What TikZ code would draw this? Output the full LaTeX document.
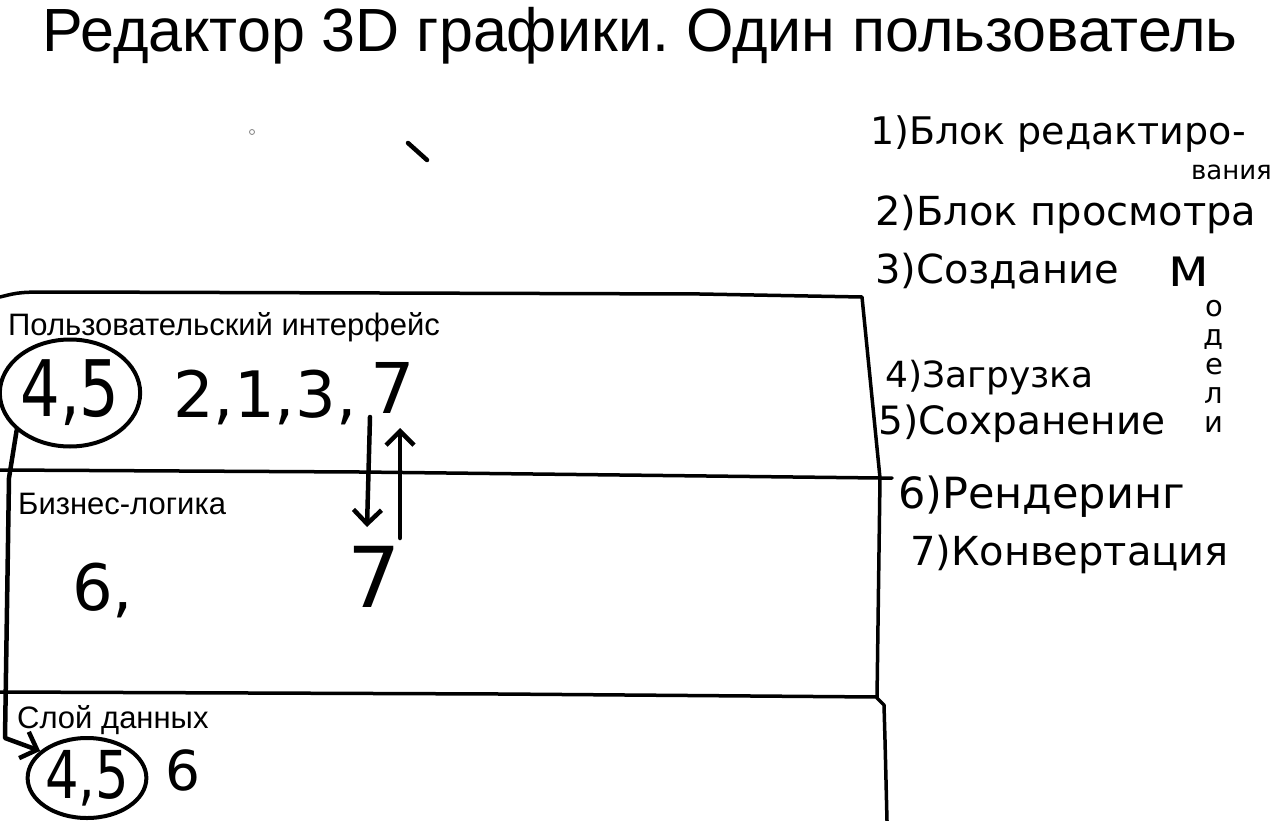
\documentclass[tikz,border=0pt]{standalone}
\usepackage{fontspec}
\setmainfont{Liberation Sans}
\newfontfamily\handfont{DejaVu Sans}
\newfontfamily\digfont[FakeStretch=0.8]{DejaVu Sans}
\usetikzlibrary{arrows.meta,shapes.geometric}
\newcommand\myfs[1]{\fontsize{#1}{#1}\selectfont}
\frenchspacing
\begin{document}
\begin{tikzpicture}[x=1pt,y=-1pt,
  stroke/.style={line width=4.5pt, line cap=round, line join=round},
  frame/.style={line width=3.5pt, line join=round, line cap=round},
  lbl/.style={anchor=base west, inner sep=0pt, font=\myfs{31}},
  hand/.style={anchor=base west, inner sep=0pt, font=\handfont\myfs{40}},
  dig/.style={anchor=base west, inner sep=0pt, font=\handfont\myfs{64}},
  bubble/.style={draw, ellipse, line width=4pt, inner sep=0pt},
  arr/.style={stroke, -{Straight Barb[length=14pt,width=28pt]}}]
\useasboundingbox (0,0) rectangle (1276,821);
\fill[white] (0,0) rectangle (1276,821);

% title
\node[font=\myfs{61}, anchor=base, inner sep=0pt] (title) at (640,52) {Редактор 3D графики. Один пользователь};

% stray marks
\node[circle, draw=gray, line width=0.8pt, inner sep=0pt, minimum size=5pt] (dot) at (252,132) {};
\draw[stroke] (408,143) -- (427,160);

% frame
\draw[frame] (0,297) .. controls (20,292) .. (60,292) -- (700,294) -- (862,297) -- (880,478) -- (877,698) -- (884,705) -- (885,740) -- (887,821);
\draw[frame] (0,470) -- (360,472) -- (880,478) -- (892,478);
\draw[frame] (0,692) -- (500,694) -- (877,697);

% layer labels
\node[lbl] (ui) at (8,335) {Пользовательский интерфейс};
\node[lbl] (bl) at (18,514) {Бизнес-логика};
\node[lbl] (dl) at (17,728) {Слой данных};

% UI layer
\node[bubble, minimum width=140pt, minimum height=107pt] (ui45) at (70,393) {\digfont\myfs{78}4,5};
\node[dig] (ui213) at (173,417) {2,1,3,};
\node[dig, font=\handfont\myfs{70}] (ui7) at (370,413) {7};

% business layer
\node[dig] (bl6) at (72,610) {6,};
\node[dig, font=\handfont\myfs{84}] (bl7) at (347,607) {7};

% data layer
\node[bubble, minimum width=117pt, minimum height=80pt] (dl45) at (87,778) {\digfont\myfs{66}4,5};
\node[dig, font=\handfont\myfs{55}] (dl6) at (165,790) {6};

% arrows
\coordinate (d0) at (370,417);
\coordinate (d1) at (367,527);
\coordinate (u0) at (400,538);
\coordinate (u1) at (400,428);
\draw[arr] (d0) -- (d1);
\draw[arr] (u0) -- (u1);
\draw[arr] (ui45.215) -- (9,478) -- (5,738) -- (dl45.150);

% legend
\node[hand, font=\handfont\myfs{38}] (l1) at (870,145) {1)Блок редактиро-};
\node[hand, font=\handfont\myfs{26}, anchor=base east] (l1b) at (1272,180) {вания};
\node[hand] (l2) at (875,225) {2)Блок просмотра};
\node[hand] (l3) at (875,283) {3)Создание};
\node[hand, font=\handfont\myfs{54}] (l3m) at (1168,286) {м};
\node[font=\handfont\fontsize{29}{29}\selectfont, align=center, inner sep=0pt, anchor=north] (l3v) at (1214,300) {о\\д\\е\\л\\и};
\node[hand, font=\handfont\myfs{36}] (l4) at (885,387) {4)Загрузка};
\node[hand, font=\handfont\myfs{39}] (l5) at (878,434) {5)Сохранение};
\node[hand, font=\handfont\myfs{43}] (l6) at (898,508) {6)Рендеринг};
\node[hand] (l7) at (910,565) {7)Конвертация};
\end{tikzpicture}
\end{document}
